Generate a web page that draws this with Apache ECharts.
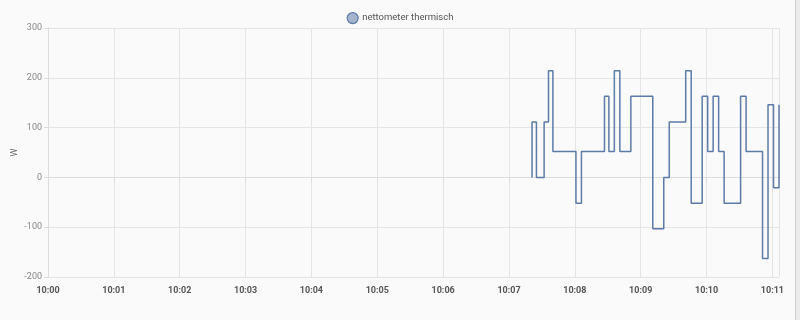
<!DOCTYPE html>
<html>
<head>
<meta charset="utf-8">
<script src="https://cdn.jsdelivr.net/npm/echarts@6/dist/echarts.min.js"></script>
<style>
html,body{margin:0;padding:0;background:#fafafa;}
#chart{width:800px;height:320px;}
</style>
</head>
<body>
<div id="chart"></div>
<script>
const seriesName = 'nettometer thermisch';
const yTicks = [-200, -100, 0, 100, 200, 300];
const times = [
  '10:07:21','10:07:21','10:07:25','10:07:32','10:07:36','10:07:40',
  '10:08:01','10:08:06','10:08:27','10:08:31','10:08:36','10:08:41',
  '10:08:51','10:09:11','10:09:21','10:09:26','10:09:41','10:09:46',
  '10:09:56','10:10:01','10:10:06','10:10:11','10:10:16','10:10:31',
  '10:10:36','10:10:51','10:10:56','10:11:01','10:11:06'
];
const values = [
  0, 111, 0, 111, 214, 52,
  -52, 52, 163, 52, 214, 52,
  163, -103, 0, 111, 214, -52,
  163, 52, 163, 52, -52, 163,
  52, -163, 146, -21, 146
];

const data = times.map((t, i) => [new Date('2024-01-01T' + t).getTime(), values[i]]);
const chart = echarts.init(document.getElementById('chart'));
const fmt = (v) => {
  const d = new Date(v);
  return String(d.getHours()).padStart(2,'0') + ':' + String(d.getMinutes()).padStart(2,'0');
};
chart.setOption({
  backgroundColor: '#fafafa',
  animation: false,
  textStyle: { fontFamily: 'Roboto' },
  legend: {
    top: 7,
    left: 'center',
    icon: 'circle',
    itemWidth: 11,
    itemHeight: 11,
    itemGap: 5,
    textStyle: { color: '#555', fontSize: 9.5, fontFamily: 'Roboto', padding: [0, 0, 0, -1] },
    data: [{ name: seriesName, itemStyle: { color: 'rgba(92,123,167,0.55)', borderColor: '#5c7ba7', borderWidth: 1.2 } }]
  },
  grid: { left: 48, right: 21, top: 28, bottom: 43, outerBoundsMode: 'none', containLabel: false },
  xAxis: {
    type: 'time',
    min: new Date('2024-01-01T10:00:00').getTime(),
    max: 'dataMax',
    interval: 60000,
    minInterval: 60000,
    maxInterval: 60000,
    axisLine: { show: true, lineStyle: { color: '#dcdcdc' } },
    axisTick: { show: true, length: 4, lineStyle: { color: '#dcdcdc' } },
    splitLine: { show: true, lineStyle: { color: '#e4e4e4' } },
    axisLabel: {
      formatter: fmt,
      color: '#555',
      fontSize: 9,
      fontWeight: 'bold',
      fontFamily: 'Roboto',
      margin: 9,
      hideOverlap: false
    }
  },
  yAxis: {
    type: 'value',
    name: 'W',
    nameLocation: 'middle',
    nameGap: 29,
    nameMoveOverlap: false,
    nameTextStyle: { color: '#666', fontSize: 9 },
    min: yTicks[0],
    max: yTicks[yTicks.length - 1],
    interval: 100,
    axisLine: { show: true, lineStyle: { color: '#dcdcdc' } },
    axisTick: { show: true, length: 4, lineStyle: { color: '#dcdcdc' } },
    splitLine: { show: true, lineStyle: { color: '#e4e4e4' } },
    axisLabel: { color: '#888', fontSize: 9, fontFamily: 'Roboto', margin: 6 }
  },
  series: [{
    name: seriesName,
    type: 'line',
    step: 'end',
    showSymbol: false,
    symbol: 'none',
    data: data,
    lineStyle: { color: '#5c7ba7', width: 1.5 },
    itemStyle: { color: '#5c7ba7' }
  }],
  graphic: [
    { type: 'rect', shape: { x: 795, y: 0, width: 5, height: 320 }, style: { fill: '#ececec' } },
    { type: 'line', shape: { x1: 795.5, y1: 0, x2: 795.5, y2: 320 }, style: { stroke: '#d0d0d0', lineWidth: 1 } }
  ]
});
</script>
</body>
</html>
